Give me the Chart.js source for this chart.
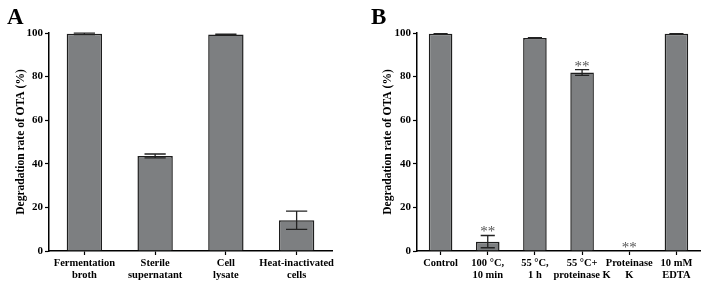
<!DOCTYPE html>
<html><head><meta charset="utf-8">
<script src="https://cdn.jsdelivr.net/npm/chart.js@4/dist/chart.umd.min.js"></script>
<style>
html,body{margin:0;padding:0;background:#fff;width:711px;height:289px;overflow:hidden;}
.panel{position:absolute;top:0;height:289px;}
.letter{position:absolute;font-family:"Liberation Serif",serif;font-weight:bold;font-size:23px;line-height:1;}
</style></head>
<body>
<div class="panel" style="left:0;width:355px;"><canvas id="ca"></canvas></div>
<div class="panel" style="left:355px;width:356px;"><canvas id="cb"></canvas></div>
<div class="letter" style="left:7px;top:5px;">A</div>
<div class="letter" style="left:371px;top:5px;">B</div>
<script>
const categoriesA = [["Fermentation","broth"],["Sterile","supernatant"],["Cell","lysate"],["Heat-inactivated","cells"]];
const valuesA = [99.6, 43.6, 99.3, 14.1];
const errorsA = [0.3, 0.9, 0.2, 4.2];
const signifA = ["", "", "", ""];

const categoriesB = [["Control"],["100 \u00B0C,","10 min"],["55 \u00B0C,","1 h"],["55 \u00B0C+","proteinase K"],["Proteinase","K"],["10 mM","EDTA"]];
const valuesB = [99.6, 4.3, 97.7, 81.9, 0, 99.6];
const errorsB = [0.1, 2.8, 0.2, 1.3, 0, 0.1];
const signifB = ["", "**", "", "**", "**", ""];

const yTicks = [0, 20, 40, 60, 80, 100];
const yTitle = "Degradation rate of OTA (%)";

const FONT = "'Liberation Serif', 'Times New Roman', serif";

const errPlugin = {
  id: 'errbars',
  afterDatasetsDraw(chart, args, opts) {
    const ctx = chart.ctx;
    const meta = chart.getDatasetMeta(0);
    const ys = chart.scales.y;
    ctx.save();
    meta.data.forEach((bar, i) => {
      const v = opts.values[i], e = opts.errors[i];
      const x = bar.x;
      const cap = bar.width * 0.6 / 2;
      let top = ys.getPixelForValue(v + e);
      if (e > 0) {
        const bot = ys.getPixelForValue(v - e);
        ctx.strokeStyle = '#222';
        ctx.lineWidth = 1.3;
        ctx.beginPath();
        ctx.moveTo(x, top); ctx.lineTo(x, bot);
        ctx.moveTo(x - cap, top); ctx.lineTo(x + cap, top);
        ctx.moveTo(x - cap, bot); ctx.lineTo(x + cap, bot);
        ctx.stroke();
      }
      const s = opts.signif[i];
      if (s) {
        ctx.fillStyle = '#555';
        ctx.font = "15px " + FONT;
        ctx.textAlign = 'center';
        ctx.textBaseline = 'middle';
        ctx.fillText(s, x, top - 3);
      }
    });
    ctx.restore();
  }
};

function makeChart(id, cats, vals, errs, sig, yWidth, titlePad, padRight) {
  return new Chart(document.getElementById(id), {
    type: 'bar',
    data: {
      labels: cats,
      datasets: [{
        data: vals,
        backgroundColor: '#7d7f81',
        borderColor: '#1e1e1e',
        borderWidth: 1.5,
        barPercentage: 0.5,
        categoryPercentage: 1.0
      }]
    },
    options: {
      responsive: true,
      maintainAspectRatio: false,
      animation: false,
      layout: { padding: { left: 0, right: padRight, top: 33, bottom: 0 } },
      plugins: {
        legend: { display: false },
        tooltip: { enabled: false },
        errbars: { values: vals, errors: errs, signif: sig }
      },
      scales: {
        x: {
          grid: { display: true, drawOnChartArea: false, offset: false, color: '#000', tickLength: 4, tickWidth: 1.2 },
          border: { display: true, color: '#000', width: 1.5 },
          ticks: { color: '#000', padding: 2, font: { family: FONT, weight: 'bold', size: 10.5, lineHeight: 1.14 }, maxRotation: 0, autoSkip: false },
          afterFit(scale) { scale.height = 38; }
        },
        y: {
          min: 0, max: 100,
          afterBuildTicks(scale) { scale.ticks = yTicks.map(v => ({ value: v })); },
          grid: { display: true, drawOnChartArea: false, color: '#000', tickLength: 4, tickWidth: 1.2 },
          border: { display: true, color: '#000', width: 1.5 },
          ticks: { color: '#000', padding: 2, font: { family: FONT, weight: 'bold', size: 11 } },
          title: { display: true, text: yTitle, color: '#000', font: { family: FONT, weight: 'bold', size: 11.5 }, padding: { top: titlePad, bottom: 0 } },
          afterFit(scale) { scale.width = yWidth; }
        }
      }
    },
    plugins: [errPlugin]
  });
}

makeChart('ca', categoriesA, valuesA, errorsA, signifA, 49, 14, 23);
makeChart('cb', categoriesB, valuesB, errorsB, signifB, 62, 26, 11);
</script>
</body></html>
